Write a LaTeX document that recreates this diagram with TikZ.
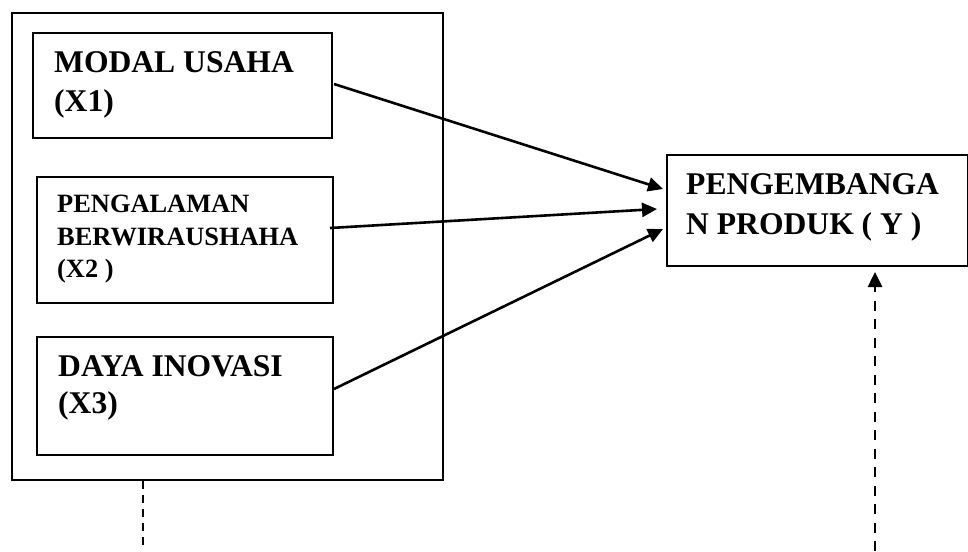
\documentclass[tikz,border=0pt]{standalone}
\usepackage{fontspec}
\setmainfont{Liberation Serif}
\usetikzlibrary{arrows.meta,calc}
\tikzset{
  frame/.style={draw, line width=2pt, inner sep=0pt, anchor=north west},
  lbl/.style={anchor=base west, inner sep=0pt, font=\fontsize{31.6}{38}\selectfont\bfseries},
  lblsm/.style={anchor=base west, inner sep=0pt, font=\fontsize{26.4}{33}\selectfont\bfseries},
  tip/.style={-{Triangle[length=15pt,width=14pt]}},
  link/.style={line width=2.6pt, tip},
  dashlink/.style={line width=2.6pt, dash pattern=on 10pt off 8.5pt},
}
\begin{document}
\begin{tikzpicture}[x=1pt,y=-1pt]
\useasboundingbox (0,0) rectangle (968,551);
% outer group box
\node[frame, minimum width=431pt, minimum height=467pt] (outer) at (10.5,12) {};
% inner boxes
\node[frame, minimum width=299pt, minimum height=105pt] (b1) at (32,32) {};
\node[frame, minimum width=296pt, minimum height=126pt] (b2) at (36,176) {};
\node[frame, minimum width=296pt, minimum height=118pt] (b3) at (36,336) {};
\node[frame, minimum width=301pt, minimum height=111pt] (y) at (666,154) {};
% texts
\node[lbl] (t1a) at (54,73) {MODAL USAHA};
\node[lbl] (t1b) at (54,111) {(X1)};
\node[lblsm] (t2a) at (57,212) {PENGALAMAN};
\node[lblsm] (t2b) at (57,245) {BERWIRAUSHAHA};
\node[lblsm] (t2c) at (57,277) {(X2 )};
\node[lbl] (t3a) at (58,376) {DAYA INOVASI};
\node[lbl] (t3b) at (58,413) {(X3)};
\node[lbl] (tya) at (686,194) {PENGEMBANGA};
\node[lbl] (tyb) at (686,234) {N PRODUK ( Y )};
% connectors
\coordinate (s1) at ($(b1.east)+(1,-1.5)$);
\coordinate (s2) at ($(b2.east)+(-4,-12)$);
\coordinate (s3) at ($(b3.east)+(0,-7)$);
\coordinate (e1) at ($(y.west)+(-3,-21.5)$);
\coordinate (e2) at ($(y.west)+(-9,-1.5)$);
\coordinate (e3) at ($(y.west)+(-3,18.5)$);
\draw[link] (s1) -- (e1);
\draw[link] (s2) -- (e2);
\draw[link] (s3) -- (e3);
% dashed lines
\coordinate (d1) at (143,551);
\draw[line width=2.2pt, dash pattern=on 7.5pt off 6.5pt] (outer.south -| d1) -- (d1);
\coordinate (d2) at (875,551);
\coordinate (d2t) at (875,272);
\coordinate (d2m) at (875,288);
\draw[dashlink] (d2) -- (d2m);
\draw[line width=2.6pt, tip] (d2m) -- (d2t);
\end{tikzpicture}
\end{document}
